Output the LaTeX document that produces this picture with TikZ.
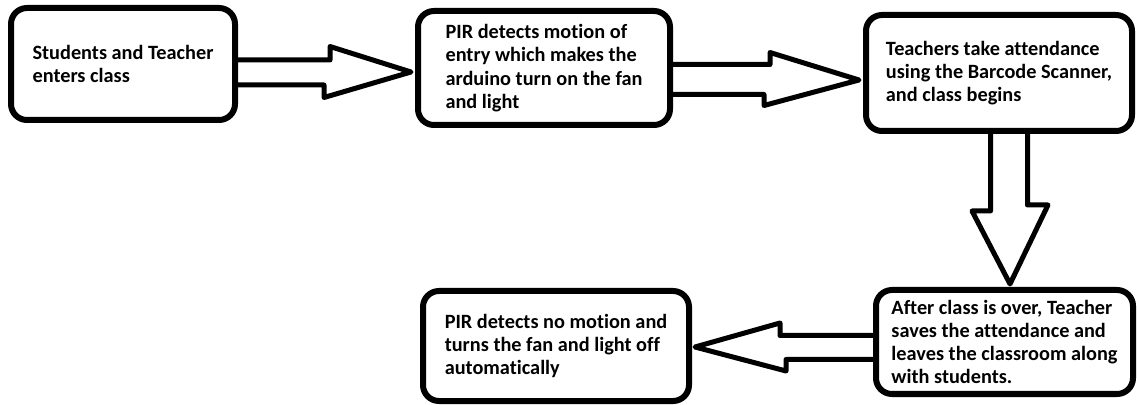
\documentclass[tikz,border=0pt]{standalone}
\usepackage{fontspec}
\setmainfont{Carlito}[Ligatures=NoCommon]
\usetikzlibrary{positioning,calc}
\tikzset{
stepbox/.style = {draw, rectangle, rounded corners=16pt, line width=6pt, align=left, inner sep=0pt, font=\fontsize{20.3}{23.3}\selectfont\bfseries},
hollow/.style = {draw, line width=5pt, line join=round}
}
\begin{document}
\begin{tikzpicture}[x=1pt, y=1pt]
    \useasboundingbox (0,0) rectangle (1137,404);

    \node  [stepbox, minimum width=224, minimum height=112] (enter) at (123,340)
      {Students and Teacher\\enters class};
    \node  [stepbox, right of=enter, node distance=421pt, yshift=-4pt, minimum width=252, minimum height=114] (detect)
      {PIR detects motion of\\entry which makes the\\arduino turn on the fan\\and light};
    \node  [stepbox, right of=detect, node distance=455pt, yshift=-5pt, minimum width=266, minimum height=116] (attend)
      {Teachers take attendance\\using the Barcode Scanner,\\and class begins};
    \node  [stepbox, below of=attend, node distance=269pt, xshift=5.5pt, minimum width=257, minimum height=104] (leave)
      {After class is over, Teacher\\saves the attendance and\\leaves the classroom along\\with students.};
    \node  [stepbox, left of=leave, node distance=448.5pt, yshift=-4pt, minimum width=266, minimum height=110] (off)
      {PIR detects no motion and\\turns the fan and light off\\automatically};

    \draw[hollow] ([yshift=4]enter.east) -- ++(92,0) -- ++(0,13.5) -- ([shift={(-4,-4)}]detect.west)
      -- ++(-87,-25.5) -- ++(0,12.5) -- ([yshift=-21]enter.east);
    \draw[hollow] ([yshift=3.5]detect.east) -- ++(97,0) -- ++(0,12) -- ([shift={(-4,-7)}]attend.west)
      -- ++(-95,-25.5) -- ++(0,11) -- ([yshift=-26.5]detect.east);
    \draw[hollow] ([xshift=-8.5]attend.south) -- ++(0,-77) -- ++(-18.5,0) -- ([shift={(5.5,3)}]leave.north)
      -- ++(38,79) -- ++(-20.5,0) -- ([xshift=28.5]attend.south);
    \draw[hollow] ([yshift=6.5]leave.west) -- ++(-93,0) -- ++(0,12.5) -- ([shift={(3,-1)}]off.east)
      -- ++(91,-24) -- ++(0,11.5) -- ([yshift=-17.5]leave.west);

\end{tikzpicture}
\end{document}
